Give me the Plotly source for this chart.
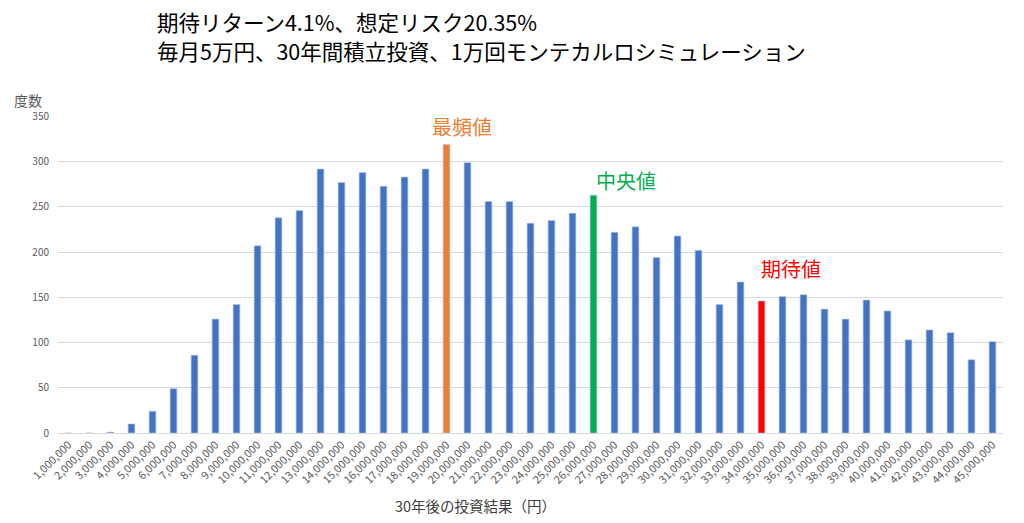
import plotly.graph_objects as go

# 30年後の投資結果の階級（円）と度数
bins = [i * 1000000 for i in range(1, 46)]
labels = ["{:,}".format(b) for b in bins]
counts = [0, 0, 1, 10, 24, 49, 86, 126, 142, 207,
          238, 246, 292, 277, 288, 273, 283, 292, 319, 299,
          256, 256, 232, 235, 243, 263, 222, 228, 194, 218,
          202, 142, 167, 146, 151, 153, 137, 126, 147, 135,
          103, 114, 111, 81, 101]

mode_label = "19,000,000"
median_label = "26,000,000"
mean_label = "34,000,000"

title_lines = ["期待リターン4.1%、想定リスク20.35%",
               "毎月5万円、30年間積立投資、1万回モンテカルロシミュレーション"]

colors = []
for lab in labels:
    if lab == mode_label:
        colors.append("#ED7D31")
    elif lab == median_label:
        colors.append("#00B050")
    elif lab == mean_label:
        colors.append("#FF0000")
    else:
        colors.append("#4472C4")

font = "Noto Sans CJK JP"

fig = go.Figure()
fig.add_trace(go.Bar(x=labels, y=counts, width=0.32,
                     marker=dict(color=colors, line=dict(color="#B4C7E7", width=0.6))))

fig.add_annotation(x=mode_label, y=counts[labels.index(mode_label)], yshift=18, xshift=15,
                   text="最頻値", showarrow=False, font=dict(size=20, color="#ED7D31", family=font))
fig.add_annotation(x=median_label, y=counts[labels.index(median_label)], yshift=15, xshift=0,
                   xanchor="left", text="中央値", showarrow=False,
                   font=dict(size=20, color="#00B050", family=font))
fig.add_annotation(x=mean_label, y=counts[labels.index(mean_label)], yshift=32, xshift=-3,
                   xanchor="left", text="期待値", showarrow=False,
                   font=dict(size=20, color="#FF0000", family=font))
fig.add_annotation(xref="paper", yref="paper", x=-0.0317, y=1.0505,
                   xanchor="center", yanchor="middle", text="度数", showarrow=False,
                   font=dict(size=14, color="#595959", family=font))
fig.add_annotation(xref="paper", yref="paper", x=0.442, y=-0.23, xanchor="center", yanchor="middle",
                   text="30年後の投資結果（円）", showarrow=False,
                   font=dict(size=14.5, color="#404040", family=font))
# タイトル2行
for line, py in zip(title_lines, [21, 51]):
    fig.add_annotation(xref="paper", yref="paper", x=(155 - 58) / 945, y=(433 - py) / 317,
                       xanchor="left", yanchor="middle", showarrow=False, text=line,
                       font=dict(size=21.5, color="#000000", family=font))

fig.update_layout(
    width=1024, height=523,
    margin=dict(l=58, r=21, t=116, b=90),
    paper_bgcolor="white", plot_bgcolor="white",
    showlegend=False,
    font=dict(family=font, color="#595959"),
    xaxis=dict(type="category", tickangle=-45, tickfont=dict(size=11, color="#595959"),
               showline=True, linecolor="#D9D9D9", showgrid=False, ticks="", automargin=False),
    yaxis=dict(range=[0, 350.6], dtick=50, showgrid=True, gridcolor="#D9D9D9", zeroline=False,
               tickfont=dict(size=10, color="#595959"), ticks="", ticklabelstandoff=8,
               automargin=False),
)

fig.write_html("out.html", config={"displayModeBar": False},
               post_script="document.body.style.margin='0';")
